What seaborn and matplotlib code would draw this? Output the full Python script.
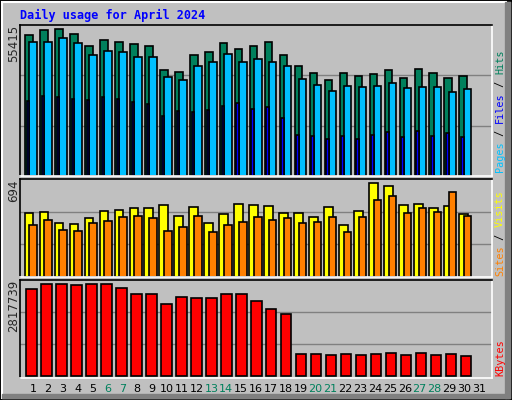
import matplotlib
matplotlib.use("Agg")
import matplotlib.pyplot as plt
import seaborn as sns
import numpy as np
from matplotlib.patches import Rectangle

days = list(range(1, 31))
hits = [53143, 55031, 55415, 53520, 48988, 51255, 50500, 49744, 48988, 39923,
        39168, 45589, 46722, 50122, 47855, 48988, 50500, 45589, 41434, 38790,
        36146, 38790, 37657, 38412, 39923, 36902, 40301, 38790, 36902, 37657]
files = [50500, 50500, 52010, 50122, 45589, 47099, 46722, 44833, 44833, 37279,
         36146, 41434, 42945, 45967, 42945, 44078, 42945, 41434, 36524, 34258,
         31991, 33880, 33502, 33880, 35013, 33124, 33502, 33502, 31613, 32746]
pages = [28328, 30103, 29725, 28970, 28592, 29725, 28970, 27836, 27081, 22549,
         24437, 24060, 24815, 26326, 27459, 25193, 25948, 21793, 15372, 14995,
         13862, 14995, 13862, 15372, 16505, 14617, 16883, 14995, 16128, 14617]
visits = [470, 477, 399, 392, 437, 485, 492, 507, 507, 530, 452, 515, 399, 462, 537,
          530, 527, 474, 474, 444, 519, 384, 485, 694, 672, 534, 542, 512, 527, 467]
sites = [384, 422, 347, 339, 399, 414, 444, 452, 437, 339, 369, 452, 332, 384, 407,
         444, 422, 437, 399, 407, 444, 332, 444, 571, 601, 474, 512, 482, 631, 452]
kbytes = [2664000, 2817739, 2817739, 2786900, 2817739, 2817739, 2694700, 2510300,
          2510300, 2202900, 2418100, 2387300, 2387300, 2510300, 2510300, 2295100,
          2049200, 1895500, 655700, 655700, 625000, 655700, 625000, 655700, 686500,
          625000, 686500, 625000, 655700, 594300]
weekend = [6, 7, 13, 14, 20, 21, 27, 28]

BG = "#C0C0C0"
GREEN = "#00805C"
sns.set_style("white")
plt.rcParams["font.family"] = ["DejaVu Sans"]

fig = plt.figure(figsize=(5.12, 4.0), dpi=100, facecolor=BG)
d = np.array(days)


def bars(ax, offset, vals, width, color):
    sns.barplot(x=d + offset, y=vals, native_scale=True, width=width, color=color,
                edgecolor="black", linewidth=1.2, saturation=1, ax=ax, zorder=2)


def style(ax, ymax, ymin=0):
    ax.set_facecolor(BG)
    ax.set_xlim(0.13, 31.6)
    ax.set_ylim(ymin, ymax)
    for y in (ymax / 3, ymax * 2 / 3):
        ax.axhline(y, color="#808080", lw=1, zorder=0)
    ax.set_xticks([])
    ax.set_yticks([])
    ax.set_xlabel("")
    ax.set_ylabel("")
    for s in ("left", "top"):
        ax.spines[s].set_color("black")
    for s in ("right", "bottom"):
        ax.spines[s].set_color("white")
    for s in ax.spines.values():
        s.set_linewidth(1.2)


ax1 = fig.add_axes([0.039, 0.56, 0.921, 0.3775])
bars(ax1, -0.28, hits, 0.52, GREEN)
bars(ax1, 0.0, files, 0.50, "#00C0FF")
bars(ax1, -0.335, pages, 0.17, "#0000FF")
style(ax1, 57040)

ax2 = fig.add_axes([0.039, 0.3075, 0.921, 0.245])
bars(ax2, -0.28, visits, 0.56, "#FFFF00")
bars(ax2, 0.0, sites, 0.50, "#FF8000")
style(ax2, 724)

ax3 = fig.add_axes([0.039, 0.055, 0.921, 0.245])
bars(ax3, -0.1, kbytes, 0.70, "#FF0000")
style(ax3, 2940600, -70700)

for i in range(1, 32):
    fig.text((33 + 14.87 * (i - 1)) / 512, 1 - 389 / 400, str(i), ha="center", va="center",
             fontsize=8, color=GREEN if i in weekend else "black")

fig.text(20 / 512, 1 - 15 / 400, "Daily usage for April 2024", color="#0000FF",
         family="DejaVu Sans Mono", weight="bold", fontsize=8.5, va="center")

for txt, ytop in (("55415", 25), ("694", 180), ("2817739", 280)):
    fig.text(14 / 512, 1 - ytop / 400, txt, rotation=90, va="top", ha="center", fontsize=8.5)


def side(parts, ybottom):
    y = ybottom
    for t, c in parts:
        fig.text(500 / 512, 1 - y / 400, t, rotation=90, va="bottom", ha="center",
                 color=c, family="DejaVu Sans Mono", fontsize=7.3)
        y -= len(t) * 6.1


side([("Pages", "#00C0FF"), (" / ", "black"), ("Files", "#0000FF"), (" / ", "black"),
      ("Hits", GREEN)], 172)
side([("Sites", "#FF8000"), (" / ", "black"), ("Visits", "#FFFF00")], 276)
side([("KBytes", "#FF0000")], 376)

# 3D frame
fig.patches.append(Rectangle((0, 0), 1, 1, transform=fig.transFigure, fill=False,
                             edgecolor="black", lw=2))
fig.patches.append(Rectangle((0.004, 0.005), 0.985, 0.99, transform=fig.transFigure,
                             fill=False, edgecolor="white", lw=1.5))
fig.patches.append(Rectangle((0.987, 0.005), 0.009, 0.99, transform=fig.transFigure,
                             color="#808080"))
fig.patches.append(Rectangle((0.004, 0.004), 0.99, 0.012, transform=fig.transFigure,
                             color="#808080"))

fig.savefig("out.png", dpi=100, facecolor=BG)
